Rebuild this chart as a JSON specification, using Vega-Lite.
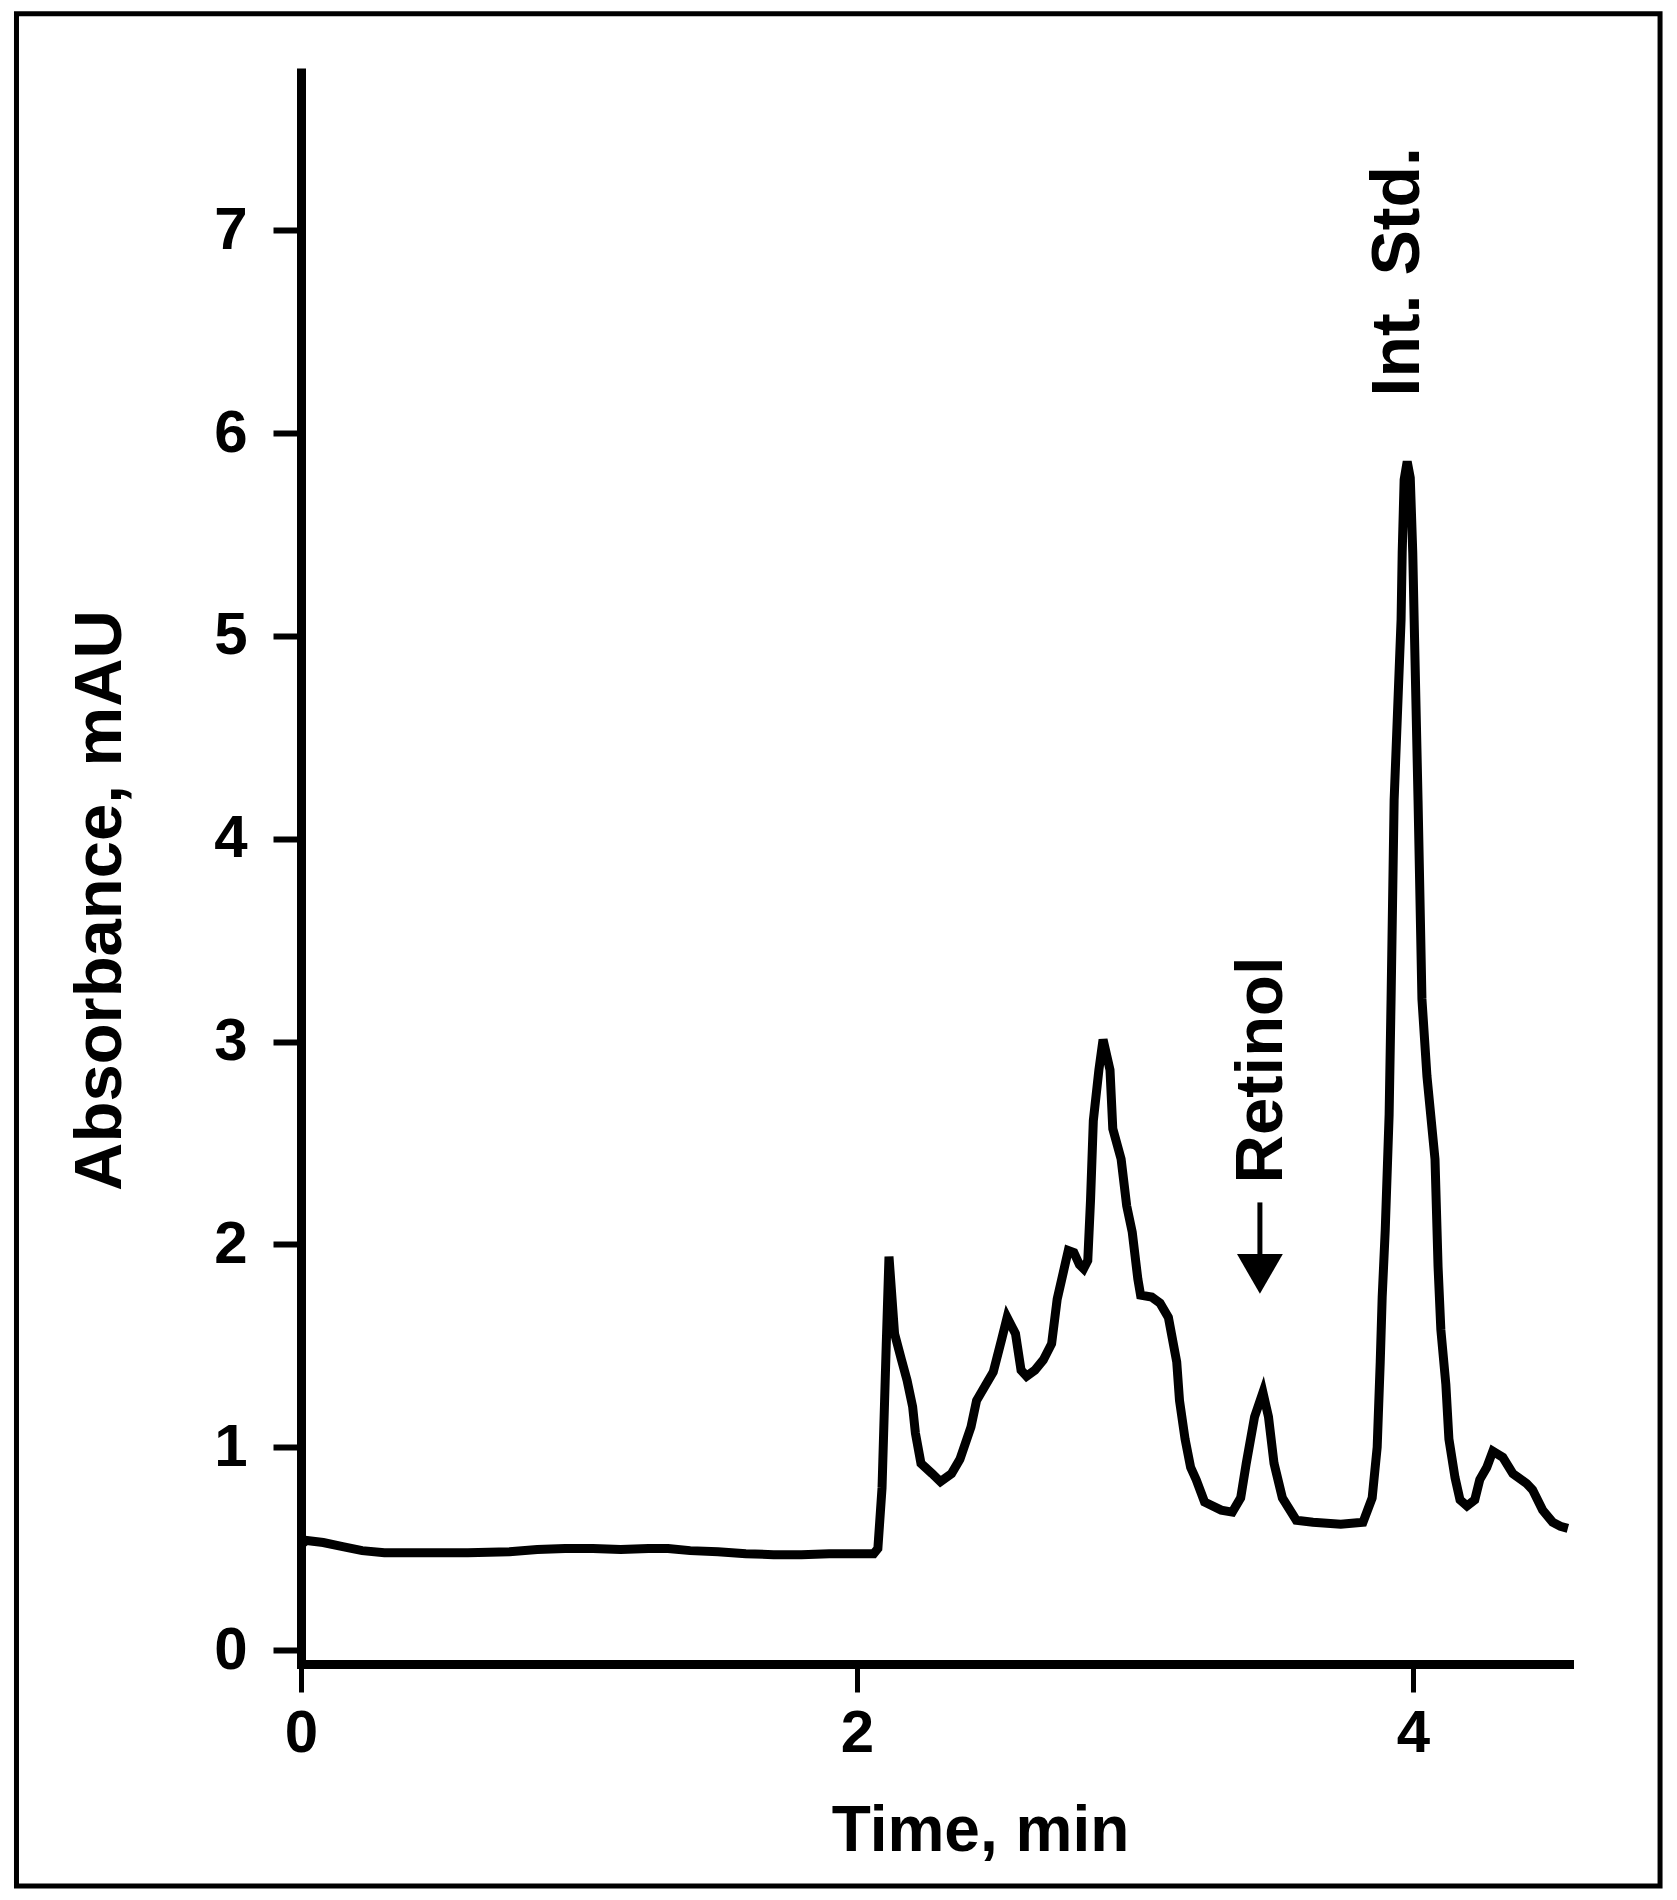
{
  "$schema": "https://vega.github.io/schema/vega-lite/v6.json",
  "width": 1268,
  "height": 1596,
  "autosize": {"type": "none"},
  "padding": {"left": 301, "top": 68, "right": 108, "bottom": 236},
  "background": "white",
  "config": {
    "view": {"stroke": null},
    "font": "Liberation Sans",
    "axis": {"grid": false, "labelColor": "black", "titleColor": "black", "domainColor": "black", "tickColor": "black", "labelFont": "Liberation Sans", "titleFont": "Liberation Sans"}
  },
  "datasets": {
    "trace": [
      {"time": 0.00, "abs": 0.52}, {"time": 0.02, "abs": 0.54}, {"time": 0.08, "abs": 0.53},
      {"time": 0.15, "abs": 0.51}, {"time": 0.22, "abs": 0.49}, {"time": 0.30, "abs": 0.48},
      {"time": 0.45, "abs": 0.48}, {"time": 0.60, "abs": 0.48}, {"time": 0.75, "abs": 0.485},
      {"time": 0.85, "abs": 0.495}, {"time": 0.95, "abs": 0.50}, {"time": 1.05, "abs": 0.50},
      {"time": 1.15, "abs": 0.495}, {"time": 1.25, "abs": 0.50}, {"time": 1.32, "abs": 0.50},
      {"time": 1.40, "abs": 0.49}, {"time": 1.50, "abs": 0.485}, {"time": 1.60, "abs": 0.475},
      {"time": 1.70, "abs": 0.47}, {"time": 1.80, "abs": 0.47}, {"time": 1.90, "abs": 0.475},
      {"time": 2.00, "abs": 0.475}, {"time": 2.06, "abs": 0.475}, {"time": 2.075, "abs": 0.50},
      {"time": 2.09, "abs": 0.80}, {"time": 2.105, "abs": 1.50}, {"time": 2.115, "abs": 1.94},
      {"time": 2.135, "abs": 1.56}, {"time": 2.16, "abs": 1.43}, {"time": 2.18, "abs": 1.33},
      {"time": 2.20, "abs": 1.20}, {"time": 2.21, "abs": 1.07}, {"time": 2.23, "abs": 0.92},
      {"time": 2.27, "abs": 0.87}, {"time": 2.30, "abs": 0.83}, {"time": 2.34, "abs": 0.87},
      {"time": 2.37, "abs": 0.94}, {"time": 2.41, "abs": 1.10}, {"time": 2.43, "abs": 1.23},
      {"time": 2.46, "abs": 1.30}, {"time": 2.49, "abs": 1.37}, {"time": 2.52, "abs": 1.53},
      {"time": 2.54, "abs": 1.64}, {"time": 2.57, "abs": 1.56}, {"time": 2.59, "abs": 1.38},
      {"time": 2.61, "abs": 1.35}, {"time": 2.64, "abs": 1.38}, {"time": 2.67, "abs": 1.43},
      {"time": 2.70, "abs": 1.51}, {"time": 2.72, "abs": 1.73}, {"time": 2.75, "abs": 1.91},
      {"time": 2.76, "abs": 1.97}, {"time": 2.78, "abs": 1.96}, {"time": 2.80, "abs": 1.90},
      {"time": 2.815, "abs": 1.88}, {"time": 2.83, "abs": 1.92}, {"time": 2.84, "abs": 2.22},
      {"time": 2.85, "abs": 2.61}, {"time": 2.87, "abs": 2.86}, {"time": 2.885, "abs": 3.01},
      {"time": 2.91, "abs": 2.86}, {"time": 2.92, "abs": 2.57}, {"time": 2.95, "abs": 2.42},
      {"time": 2.97, "abs": 2.19}, {"time": 2.99, "abs": 2.06}, {"time": 3.01, "abs": 1.83},
      {"time": 3.02, "abs": 1.75}, {"time": 3.06, "abs": 1.74}, {"time": 3.09, "abs": 1.71},
      {"time": 3.12, "abs": 1.64}, {"time": 3.15, "abs": 1.42}, {"time": 3.16, "abs": 1.23},
      {"time": 3.18, "abs": 1.04}, {"time": 3.20, "abs": 0.90}, {"time": 3.22, "abs": 0.84},
      {"time": 3.25, "abs": 0.73}, {"time": 3.31, "abs": 0.69}, {"time": 3.35, "abs": 0.68},
      {"time": 3.38, "abs": 0.75}, {"time": 3.40, "abs": 0.92}, {"time": 3.43, "abs": 1.15},
      {"time": 3.46, "abs": 1.27}, {"time": 3.48, "abs": 1.15}, {"time": 3.50, "abs": 0.92},
      {"time": 3.53, "abs": 0.75}, {"time": 3.58, "abs": 0.64}, {"time": 3.64, "abs": 0.63},
      {"time": 3.74, "abs": 0.62}, {"time": 3.82, "abs": 0.63}, {"time": 3.853, "abs": 0.75},
      {"time": 3.871, "abs": 1.00}, {"time": 3.882, "abs": 1.42}, {"time": 3.889, "abs": 1.74},
      {"time": 3.900, "abs": 2.07}, {"time": 3.914, "abs": 2.64}, {"time": 3.921, "abs": 3.21},
      {"time": 3.932, "abs": 4.19}, {"time": 3.957, "abs": 5.08}, {"time": 3.961, "abs": 5.41},
      {"time": 3.968, "abs": 5.77}, {"time": 3.979, "abs": 5.86}, {"time": 3.990, "abs": 5.78},
      {"time": 3.999, "abs": 5.41}, {"time": 4.004, "abs": 5.08}, {"time": 4.018, "abs": 4.19},
      {"time": 4.032, "abs": 3.21}, {"time": 4.050, "abs": 2.83}, {"time": 4.079, "abs": 2.42},
      {"time": 4.090, "abs": 1.89}, {"time": 4.100, "abs": 1.58}, {"time": 4.118, "abs": 1.31},
      {"time": 4.129, "abs": 1.04}, {"time": 4.151, "abs": 0.85}, {"time": 4.169, "abs": 0.74},
      {"time": 4.194, "abs": 0.71}, {"time": 4.222, "abs": 0.74}, {"time": 4.240, "abs": 0.84},
      {"time": 4.265, "abs": 0.90}, {"time": 4.287, "abs": 0.98}, {"time": 4.323, "abs": 0.95},
      {"time": 4.359, "abs": 0.87}, {"time": 4.409, "abs": 0.82}, {"time": 4.430, "abs": 0.79},
      {"time": 4.466, "abs": 0.69}, {"time": 4.502, "abs": 0.63}, {"time": 4.530, "abs": 0.61},
      {"time": 4.557, "abs": 0.60}
    ],
    "peaks": [
      {"label": "Int. Std.", "time": 3.979, "abs": 5.86},
      {"label": "Retinol", "time": 3.46, "abs": 1.27}
    ]
  },
  "layer": [
    {
      "data": {"name": "trace"},
      "mark": {"type": "line", "color": "black", "strokeWidth": 9, "strokeJoin": "miter", "clip": false},
      "encoding": {
        "x": {
          "field": "time", "type": "quantitative",
          "scale": {"domain": [0, 4.561], "nice": false, "zero": false},
          "axis": {
            "values": [0, 2, 4], "format": "d", "title": "Time, min",
            "titleFontSize": 64, "titleFontWeight": "bold", "titleX": 679, "titleY": 186, "titleBaseline": "alphabetic",
            "domainWidth": 9, "domainCap": "square", "tickWidth": 5, "tickSize": 28,
            "labelFontSize": 60, "labelFontWeight": "bold", "labelPadding": 12,
            "labelFlush": false, "labelOverlap": false, "labelBound": false
          }
        },
        "y": {
          "field": "abs", "type": "quantitative",
          "scale": {"domain": [-0.069, 7.8], "nice": false, "zero": false},
          "axis": {
            "values": [0, 1, 2, 3, 4, 5, 6, 7], "format": "d", "title": "Absorbance, mAU",
            "titleFontSize": 67, "titleFontWeight": "bold", "titleX": -181, "titleY": 832, "titleBaseline": "alphabetic", "titleAngle": 270,
            "domainWidth": 9, "domainCap": "butt", "tickWidth": 6, "tickSize": 28,
            "labelFontSize": 60, "labelFontWeight": "bold", "labelPadding": 26,
            "labelFlush": false, "labelOverlap": false, "labelBound": false
          }
        }
      }
    },
    {
      "data": {"values": [{"frame": "border"}]},
      "mark": {"type": "rect", "filled": true, "fill": "transparent", "stroke": "black", "strokeWidth": 5, "opacity": 1, "strokeOpacity": 1, "clip": false},
      "encoding": {
        "x": {"datum": -1.0234, "type": "quantitative"},
        "x2": {"datum": 4.8885},
        "y": {"datum": 8.067, "type": "quantitative"},
        "y2": {"datum": -1.163}
      }
    },
    {
      "data": {"name": "peaks"},
      "transform": [{"filter": "datum.label === 'Int. Std.'"}],
      "mark": {"type": "text", "angle": 270, "align": "left", "baseline": "alphabetic", "dx": 65, "dy": 12, "fontSize": 68, "fontWeight": "bold", "color": "black", "font": "Liberation Sans", "clip": false},
      "encoding": {"x": {"field": "time", "type": "quantitative"}, "y": {"field": "abs", "type": "quantitative"}, "text": {"field": "label"}}
    },
    {
      "data": {"name": "peaks"},
      "transform": [{"filter": "datum.label === 'Retinol'"}],
      "mark": {"type": "text", "angle": 270, "align": "left", "baseline": "alphabetic", "dx": 209, "dy": 19, "fontSize": 67, "fontWeight": "bold", "color": "black", "font": "Liberation Sans", "clip": false},
      "encoding": {"x": {"field": "time", "type": "quantitative"}, "y": {"field": "abs", "type": "quantitative"}, "text": {"field": "label"}}
    },
    {
      "data": {"name": "peaks"},
      "transform": [{"filter": "datum.label === 'Retinol'"}],
      "mark": {"type": "rule", "color": "black", "strokeWidth": 5, "yOffset": -190, "y2Offset": -137, "xOffset": -3, "clip": false},
      "encoding": {"x": {"field": "time", "type": "quantitative"}, "y": {"field": "abs", "type": "quantitative"}, "y2": {"field": "abs"}}
    },
    {
      "data": {"name": "peaks"},
      "transform": [{"filter": "datum.label === 'Retinol'"}],
      "mark": {"type": "point", "shape": "triangle-down", "filled": true, "color": "black", "size": 2100, "opacity": 1, "yOffset": -118.5, "xOffset": -3, "strokeWidth": 0, "clip": false},
      "encoding": {"x": {"field": "time", "type": "quantitative"}, "y": {"field": "abs", "type": "quantitative"}}
    }
  ]
}
